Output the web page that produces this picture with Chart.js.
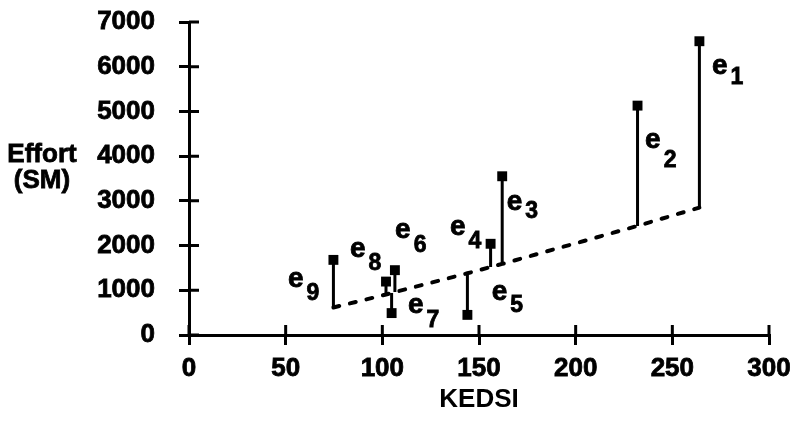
<!DOCTYPE html>
<html>
<head>
<meta charset="utf-8">
<script src="https://cdn.jsdelivr.net/npm/chart.js@4.4.0/dist/chart.umd.min.js"></script>
<style>
  html, body { margin: 0; padding: 0; background: #fff; }
  #wrap { width: 791px; height: 421px; }
</style>
</head>
<body>
<div id="wrap"><canvas id="chart" width="791" height="421"></canvas></div>
<script>
// residual names e1..e9
const names = ["1", "2", "3", "4", "5", "6", "7", "8", "9"];
const kedsi = [264, 232, 162, 156, 144, 106.5, 104.8, 101.9, 74.7];
const effort = [6570, 5130, 3550, 2040, 450, 1450, 490, 1195, 1680];
const predicted = [2850, 2440, 1590, 1520, 1380, 960, 940, 905, 615];

const xTicks = [0, 50, 100, 150, 200, 250, 300];
const yTicks = [0, 1000, 2000, 3000, 4000, 5000, 6000, 7000];

// where each "e" label sits (data units) and how far its index drops (px)
const labelX = [270.5, 235.9, 164.3, 135, 156.6, 106.6, 113.3, 83.3, 51.2];
const labelY = [5831, 4178, 2793, 2234, 782, 2167, 491, 1749, 1072];
const subDrop = [10, 19, 8, 13, 12, 14, 14, 13, 13];

const FONT = "'Liberation Sans', Arial, Helvetica, sans-serif";

const residuals = kedsi.map((x, i) => ({
  data: [{ x: x, y: effort[i] }, { x: x, y: predicted[i] }],
  showLine: true,
  borderColor: "#000",
  borderWidth: 3,
  pointRadius: 0,
  clip: false,
}));

const order = kedsi.map((x, i) => i).sort((a, b) => kedsi[a] - kedsi[b]);
const regression = {
  data: order.map((i) => ({ x: kedsi[i], y: predicted[i] })),
  showLine: true,
  borderColor: "#000",
  borderWidth: 4,
  borderDash: [6, 11],
  borderCapStyle: "round",
  pointRadius: 0,
  clip: false,
};

const points = {
  data: kedsi.map((x, i) => ({ x: x, y: effort[i] })),
  pointStyle: "rect",
  pointRadius: 7,
  backgroundColor: "#000",
  borderColor: "#000",
  borderWidth: 0,
  clip: false,
};

// ticks that cross the axis line
const crossTicks = {
  id: "crossTicks",
  afterDraw(chart) {
    const { ctx } = chart;
    const x = chart.scales.x;
    const y = chart.scales.y;
    ctx.save();
    ctx.strokeStyle = "#000";
    ctx.lineWidth = 3;
    ctx.beginPath();
    x.ticks.forEach((t) => {
      const px = x.getPixelForValue(t.value);
      ctx.moveTo(px, x.top);
      ctx.lineTo(px, x.top - 10);
    });
    y.ticks.forEach((t) => {
      const py = y.getPixelForValue(t.value);
      ctx.moveTo(y.right, py);
      ctx.lineTo(y.right + 10, py);
    });
    ctx.stroke();
    ctx.restore();
  },
};

function boldText(ctx, s, x, y) {
  ctx.fillText(s, x, y);
  ctx.strokeText(s, x, y);
}

// e labels and the horizontal y title
const textLayer = {
  id: "textLayer",
  afterDraw(chart) {
    const { ctx } = chart;
    const x = chart.scales.x;
    const y = chart.scales.y;
    ctx.save();
    ctx.fillStyle = "#000";
    ctx.strokeStyle = "#000";
    ctx.lineWidth = 0.8;
    ctx.textAlign = "left";
    ctx.textBaseline = "alphabetic";
    names.forEach((n, i) => {
      const px = x.getPixelForValue(labelX[i]);
      const py = y.getPixelForValue(labelY[i]);
      ctx.font = "bold 28px " + FONT;
      boldText(ctx, "e", px, py);
      const w = ctx.measureText("e").width;
      ctx.font = "bold 23px " + FONT;
      boldText(ctx, n, px + w + 3, py + subDrop[i]);
    });
    ctx.font = "bold 26px " + FONT;
    ctx.textAlign = "center";
    boldText(ctx, "Effort", 42, 162);
    boldText(ctx, "(SM)", 42, 188);
    ctx.restore();
  },
};

const tickFont = { family: FONT, size: 26, weight: "bold" };

new Chart(document.getElementById("chart"), {
  type: "scatter",
  data: { datasets: [...residuals, regression, points] },
  options: {
    responsive: false,
    animation: false,
    events: [],
    layout: { padding: { top: 22, right: 22, left: 0, bottom: 0 } },
    plugins: { legend: { display: false }, tooltip: { enabled: false } },
    scales: {
      x: {
        type: "linear",
        min: 0,
        max: 300,
        afterBuildTicks: (s) => { s.ticks = xTicks.map((v) => ({ value: v })); },
        afterFit: (s) => { s.height = 86; s.paddingLeft = 0; s.paddingRight = 0; },
        border: { display: true, color: "#000", width: 3 },
        grid: { drawOnChartArea: false, color: "#000", lineWidth: 3, tickLength: 10 },
        ticks: {
          color: "#000", padding: 8, maxRotation: 0, font: tickFont,
          textStrokeColor: "#000", textStrokeWidth: 0.8,
          callback: (v) => String(v),
        },
        title: {
          display: true,
          text: "KEDSI",
          color: "#000",
          padding: { top: 0, bottom: 6 },
          font: tickFont,
        },
      },
      y: {
        type: "linear",
        min: 0,
        max: 7000,
        afterBuildTicks: (s) => { s.ticks = yTicks.map((v) => ({ value: v })); },
        afterFit: (s) => { s.width = 189; s.paddingTop = 0; s.paddingBottom = 0; },
        border: { display: true, color: "#000", width: 3 },
        grid: { drawOnChartArea: false, color: "#000", lineWidth: 3, tickLength: 10 },
        ticks: {
          color: "#000", padding: 24, font: tickFont,
          textStrokeColor: "#000", textStrokeWidth: 0.8,
          callback: (v) => String(v),
        },
      },
    },
  },
  plugins: [crossTicks, textLayer],
});
</script>
</body>
</html>
